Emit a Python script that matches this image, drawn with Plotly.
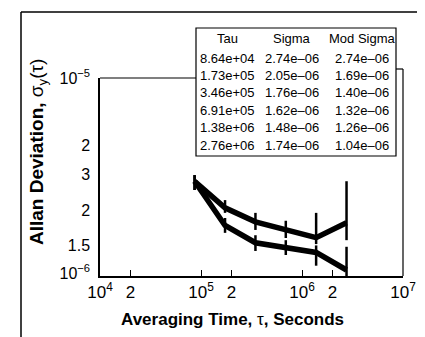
import math
import plotly.graph_objects as go

# ---- data ----
tau = [8.64e4, 1.73e5, 3.46e5, 6.91e5, 1.38e6, 2.76e6]
sigma = [2.74e-6, 2.05e-6, 1.76e-6, 1.62e-6, 1.48e-6, 1.74e-6]
mod_sigma = [2.74e-6, 1.69e-6, 1.40e-6, 1.32e-6, 1.26e-6, 1.04e-6]
sigma_err_up = [0.19e-6, 0.18e-6, 0.18e-6, 0.16e-6, 0.46e-6, 1.00e-6]
sigma_err_dn = [0.25e-6, 0.11e-6, 0.15e-6, 0.145e-6, 0.10e-6, 0.30e-6]
mod_err_up = [0.19e-6, 0.145e-6, 0.12e-6, 0.12e-6, 0.10e-6, 0.30e-6]
mod_err_dn = [0.25e-6, 0.13e-6, 0.12e-6, 0.095e-6, 0.17e-6, 0.10e-6]

x_tickvals = [1e4, 2e4, 1e5, 2e5, 1e6, 2e6, 1e7]
x_ticktext = ["10<sup>4</sup>", "2", "10<sup>5</sup>", "2", "10<sup>6</sup>", "2", "10<sup>7</sup>"]
y_tickvals = [1e-6, 10 ** -5.8645, 2e-6, 2.96e-6, 10 ** -5.3905, 10 ** -5.073]
y_ticktext = ["10<sup>\u22126</sup>", "1.5", "2", "3", "2", "10<sup>\u22125</sup>"]
y_marked = [2e-6, 2.96e-6]  # values with visible tick marks

table_header = ["Tau", "Sigma", "Mod Sigma"]

FONT = "Liberation Sans"
W, H = 425, 337
L, R, T, B = 92, 30, 70, 69
PW, PH = W - L - R, H - T - B


def px(x):
    return (x - L) / PW


def py(y):
    return (H - B - y) / PH


def fmt(v):
    return f"{v:.2e}".replace("-", "\u2013")


fig = go.Figure()
for ys, up, dn in [(sigma, sigma_err_up, sigma_err_dn), (mod_sigma, mod_err_up, mod_err_dn)]:
    fig.add_trace(go.Scatter(
        x=tau, y=ys, mode="lines",
        line=dict(color="black", width=5.5),
        error_y=dict(type="data", symmetric=False, array=up, arrayminus=dn,
                     color="black", thickness=2.5, width=0),
        showlegend=False, hoverinfo="skip"))

shapes = []
# outer frame (partial)
shapes.append(dict(type="line", xref="paper", yref="paper", x0=px(13), x1=px(13), y0=py(4), y1=py(H + 5),
                   line=dict(color="black", width=1.5)))
shapes.append(dict(type="line", xref="paper", yref="paper", x0=px(13), x1=px(W + 5), y0=py(4), y1=py(4),
                   line=dict(color="black", width=1.5)))
# top frame of plot area (stepped)
shapes.append(dict(type="line", xref="paper", yref="paper", x0=0, x1=px(188), y0=1, y1=1,
                   line=dict(color="black", width=1.2)))
shapes.append(dict(type="line", xref="paper", yref="paper", x0=px(388), x1=1, y0=py(61), y1=py(61),
                   line=dict(color="black", width=1.2)))
shapes.append(dict(type="line", xref="paper", yref="paper", x0=1, x1=1, y0=py(61), y1=0,
                   line=dict(color="black", width=1.2)))
# y tick marks
for v in y_marked:
    shapes.append(dict(type="line", xref="paper", yref="y", x0=0, x1=px(L + 6),
                       y0=math.log10(v), y1=math.log10(v), line=dict(color="black", width=1.2)))
# table box
shapes.append(dict(type="rect", xref="paper", yref="paper", x0=px(188), x1=px(388), y0=py(148), y1=py(20),
                   fillcolor="white", line=dict(color="black", width=1.2), layer="above"))

annotations = []
col_x = [219, 284, 354]
for cx, h in zip(col_x, table_header):
    annotations.append(dict(text=h, x=px(cx), y=py(31), xref="paper", yref="paper", showarrow=False,
                            xanchor="center", yanchor="middle", font=dict(size=13, color="black", family=FONT)))
for i in range(len(tau)):
    yy = 50 + 17.4 * i
    for cx, txt in zip(col_x, [fmt(tau[i]), fmt(sigma[i]), fmt(mod_sigma[i])]):
        annotations.append(dict(text=txt, x=px(cx), y=py(yy), xref="paper", yref="paper", showarrow=False,
                                xanchor="center", yanchor="middle", font=dict(size=13, color="black", family=FONT)))
# axis titles
annotations.append(dict(text="<b>Averaging Time, </b>\u03c4<b>, Seconds</b>", x=px(224), y=py(311),
                        xref="paper", yref="paper", showarrow=False, xanchor="center", yanchor="middle",
                        font=dict(size=17, color="black", family=FONT)))
annotations.append(dict(text="<b>Allan Deviation, </b>\u03c3<sub>y</sub>(\u03c4)", x=px(30), y=py(144),
                        xref="paper", yref="paper", showarrow=False, xanchor="center", yanchor="middle",
                        textangle=-90, font=dict(size=19, color="black", family=FONT)))

fig.update_layout(
    width=W, height=H,
    margin=dict(l=L, r=R, t=T, b=B),
    paper_bgcolor="white", plot_bgcolor="white",
    font=dict(family=FONT, color="black"),
    shapes=shapes, annotations=annotations,
    xaxis=dict(type="log", range=[4, 7], tickvals=x_tickvals, ticktext=x_ticktext,
               ticks="inside", ticklen=6, tickcolor="black", tickwidth=1.2,
               showline=True, linecolor="black", linewidth=1.5, showgrid=False, zeroline=False,
               tickfont=dict(size=17, color="black", family=FONT)),
    yaxis=dict(type="log", range=[-6.0114, -5.073], tickvals=y_tickvals, ticktext=y_ticktext,
               ticks="", ticklabelstandoff=5, showline=True, linecolor="black", linewidth=1.5,
               showgrid=False, zeroline=False,
               tickfont=dict(size=16, color="black", family=FONT)),
)

fig.write_html("out.html")
